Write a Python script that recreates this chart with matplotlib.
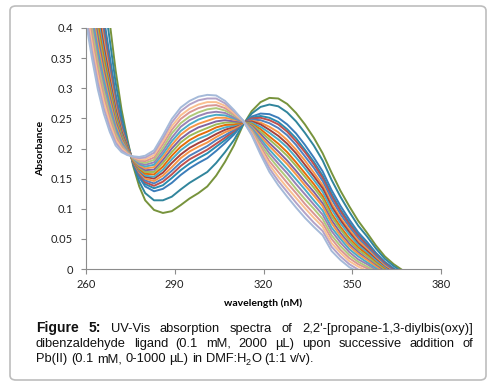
import matplotlib
matplotlib.use("Agg")
import matplotlib.pyplot as plt
from matplotlib.patches import FancyBboxPatch

# wavelength grid (nm) and absorbance x1000, one list per Pb(II) addition
wavelength = [260, 262, 264, 266, 268, 270, 272, 274, 276, 278,
              280, 283, 286, 289, 292, 295, 298, 301, 304, 307,
              310, 313, 316, 319, 322, 325, 328, 331, 334, 337,
              340, 343, 346, 349, 352, 355, 358, 361, 364, 367]

s00 = [730, 650, 570, 490, 410, 330, 265, 215, 170, 137, 114, 98, 93, 96, 106, 117, 126, 137, 155, 178, 205, 238, 262, 277, 284, 283, 274, 259, 240, 218, 192, 160, 130, 104, 80, 60, 39, 21, 8, -2]
s01 = [679, 602, 527, 453, 381, 310, 254, 211, 173, 145, 126, 114, 114, 120, 132, 143, 152, 161, 176, 194, 214, 239, 258, 269, 273, 270, 260, 245, 226, 205, 180, 148, 120, 95, 72, 54, 34, 17, 5, -5]
s02 = [631, 557, 486, 418, 354, 291, 243, 207, 175, 152, 137, 129, 133, 143, 156, 167, 176, 184, 196, 209, 223, 241, 253, 258, 257, 251, 240, 225, 206, 185, 162, 131, 105, 82, 61, 45, 27, 12, 1, -8]
s03 = [615, 542, 472, 407, 345, 285, 239, 206, 176, 155, 141, 134, 139, 151, 164, 175, 184, 192, 203, 214, 226, 241, 251, 254, 251, 244, 232, 217, 198, 178, 155, 125, 99, 77, 57, 41, 24, 10, -1, -10]
s04 = [602, 530, 461, 397, 337, 280, 237, 205, 177, 157, 144, 138, 145, 157, 171, 182, 190, 198, 208, 218, 229, 242, 250, 251, 247, 240, 228, 212, 194, 174, 151, 121, 96, 74, 55, 39, 23, 9, -2, -10]
s05 = [589, 518, 450, 388, 330, 275, 234, 204, 178, 159, 147, 142, 150, 163, 177, 188, 196, 204, 214, 222, 231, 242, 248, 247, 242, 234, 222, 206, 187, 168, 146, 116, 91, 70, 51, 36, 21, 7, -3, -12]
s06 = [576, 506, 439, 379, 323, 270, 231, 203, 178, 161, 150, 146, 155, 169, 184, 195, 203, 210, 219, 227, 233, 242, 246, 243, 236, 227, 214, 198, 180, 160, 139, 109, 85, 65, 47, 33, 18, 5, -5, -13]
s07 = [564, 494, 429, 369, 315, 265, 228, 202, 179, 163, 153, 150, 160, 176, 190, 201, 209, 216, 224, 231, 236, 243, 245, 240, 231, 221, 208, 192, 173, 154, 134, 104, 81, 61, 43, 30, 16, 3, -6, -14]
s08 = [551, 482, 418, 360, 308, 260, 225, 200, 180, 164, 155, 153, 165, 182, 197, 208, 216, 222, 230, 235, 238, 243, 243, 236, 226, 215, 202, 185, 167, 148, 128, 99, 76, 57, 40, 27, 14, 2, -8, -15]
s09 = [538, 470, 407, 351, 301, 255, 222, 199, 180, 166, 158, 157, 170, 188, 203, 214, 222, 228, 235, 239, 240, 243, 241, 232, 220, 208, 194, 177, 159, 141, 121, 92, 70, 51, 36, 24, 11, 0, -9, -17]
s10 = [525, 458, 396, 342, 294, 250, 220, 198, 181, 168, 161, 161, 176, 194, 210, 221, 228, 234, 240, 243, 243, 244, 240, 228, 215, 202, 188, 171, 153, 135, 116, 87, 66, 47, 32, 21, 9, -2, -11, -18]
s11 = [512, 446, 385, 332, 286, 245, 217, 197, 182, 170, 164, 165, 181, 200, 216, 227, 235, 240, 245, 247, 245, 244, 238, 224, 209, 195, 180, 163, 145, 128, 109, 81, 60, 42, 28, 17, 6, -4, -12, -19]
s12 = [500, 434, 374, 323, 279, 240, 214, 196, 182, 172, 167, 169, 186, 206, 223, 234, 241, 246, 251, 251, 248, 245, 236, 220, 204, 189, 174, 157, 139, 122, 104, 76, 55, 38, 25, 15, 4, -6, -14, -20]
s13 = [487, 422, 363, 314, 272, 235, 211, 195, 183, 174, 170, 173, 191, 212, 229, 240, 248, 253, 256, 255, 250, 245, 234, 216, 198, 182, 166, 149, 132, 114, 97, 69, 50, 33, 21, 11, 1, -8, -15, -22]
s14 = [474, 410, 352, 304, 264, 230, 208, 194, 184, 176, 173, 177, 196, 218, 236, 247, 254, 259, 261, 259, 252, 245, 232, 212, 192, 175, 159, 141, 124, 107, 90, 63, 44, 28, 16, 8, -2, -10, -17, -23]
s15 = [461, 398, 342, 295, 257, 225, 205, 193, 184, 178, 176, 181, 201, 225, 242, 253, 260, 265, 267, 263, 255, 246, 230, 207, 186, 168, 151, 133, 116, 100, 83, 56, 38, 23, 12, 4, -4, -12, -18, -24]
s16 = [448, 386, 331, 286, 250, 220, 203, 192, 185, 180, 179, 185, 207, 231, 249, 260, 267, 271, 272, 267, 257, 246, 228, 203, 179, 161, 143, 126, 108, 92, 76, 50, 32, 18, 8, 1, -7, -14, -20, -26]
s17 = [436, 374, 320, 277, 243, 215, 200, 191, 186, 182, 182, 189, 212, 237, 255, 266, 273, 277, 277, 271, 259, 246, 226, 199, 173, 153, 135, 118, 101, 85, 70, 43, 27, 13, 4, -3, -10, -16, -22, -27]
s18 = [423, 362, 309, 267, 235, 210, 197, 190, 186, 184, 185, 193, 217, 243, 262, 273, 280, 283, 283, 275, 262, 247, 224, 194, 167, 146, 128, 110, 93, 77, 63, 37, 21, 8, -1, -7, -12, -18, -23, -29]
s19 = [410, 350, 298, 258, 228, 205, 194, 189, 187, 186, 188, 197, 222, 249, 268, 279, 286, 289, 288, 279, 264, 247, 222, 190, 161, 139, 120, 102, 85, 70, 56, 30, 15, 3, -5, -10, -15, -20, -25, -30]

spectra = [s00, s01, s02, s03, s04, s05, s06, s07, s08, s09,
           s10, s11, s12, s13, s14, s15, s16, s17, s18, s19]

line_colors = ['#77933C', '#31859C', '#3C7DBA', '#2A8CB0', '#C0504D',
               '#4F81BD', '#F79646', '#A5403D', '#4BACC6', '#E46C0A',
               '#9BBB59', '#8064A2', '#F79646', '#4BACC6', '#9983B5',
               '#AFC97A', '#D99694', '#FAC090', '#B3A2C7', '#A5BAD9']

x_ticks = [260, 290, 320, 350, 380]
y_ticks = [0, 0.05, 0.1, 0.15, 0.2, 0.25, 0.3, 0.35, 0.4]
y_tick_labels = ['0', '0.05', '0.1', '0.15', '0.2', '0.25', '0.3', '0.35', '0.4']

# each word is a list of (text, bold, subscript) pieces
caption = [
    [[("Figure", True, False)], [("5:", True, False)], [("UV-Vis", False, False)],
     [("absorption", False, False)], [("spectra", False, False)], [("of", False, False)],
     [("2,2'-[propane-1,3-diylbis(oxy)]", False, False)]],
    [[("dibenzaldehyde", False, False)], [("ligand", False, False)], [("(0.1", False, False)],
     [("mM,", False, False)], [("2000", False, False)], [("µL)", False, False)],
     [("upon", False, False)], [("successive", False, False)], [("addition", False, False)],
     [("of", False, False)]],
    [[("Pb(II)", False, False)], [("(0.1", False, False)], [("mM,", False, False)],
     [("0-1000", False, False)], [("µL)", False, False)], [("in", False, False)],
     [("DMF:H", False, False), ("2", False, True), ("O", False, False)],
     [("(1:1", False, False)], [("v/v).", False, False)]],
]

W, H = 494, 391
fig = plt.figure(figsize=(W / 100, H / 100), dpi=100)

# rounded frame around chart + caption
frame = FancyBboxPatch((10 / W, 1 - 380 / H), 476 / W, 374 / H,
                       boxstyle="round,pad=0,rounding_size=0.012",
                       transform=fig.transFigure, facecolor='none',
                       edgecolor='#BDBDBD', linewidth=1.2, zorder=-1)
fig.patches.append(frame)

ax = fig.add_axes([86 / W, 1 - 269 / H, 355 / W, 241 / H])
ax.set_facecolor('none')

for vals, c in zip(spectra, line_colors):
    ax.plot(wavelength, [v / 1000 for v in vals], color=c, lw=1.4, solid_capstyle='round')

ax.set_xlim(260, 380)
ax.set_ylim(0, 0.4)
ax.set_xticks(x_ticks)
ax.set_yticks(y_ticks)
ax.set_yticklabels(y_tick_labels)

for s in ['top', 'right']:
    ax.spines[s].set_visible(False)
for s in ['left', 'bottom']:
    ax.spines[s].set_color('#8C8C8C')
    ax.spines[s].set_linewidth(0.8)
ax.tick_params(direction='out', length=3.5, width=0.8, color='#8C8C8C',
               labelsize=8, labelcolor='#222222')
ax.tick_params(axis='y', pad=6)
ax.tick_params(axis='x', pad=4)
for lab in ax.get_xticklabels() + ax.get_yticklabels():
    lab.set_family('Lato')

ax.set_xlabel('wavelength (nM)', fontsize=7.5, fontweight='bold', family='Lato', labelpad=6)
ax.set_ylabel('Absorbance', fontsize=7.5, fontweight='bold', family='Lato', labelpad=4)

# caption, justified like the journal layout
fig.canvas.draw()
renderer = fig.canvas.get_renderer()
left, right = 36 / W, 473 / W
baselines = [332, 347, 362]
for i, words in enumerate(caption):
    y = 1 - baselines[i] / H
    word_pieces = []
    word_widths = []
    for pieces in words:
        items = []
        total = 0
        for txt, bold, sub in pieces:
            size = 10 if bold else (6.5 if sub else 9.3)
            t = fig.text(0, y - (3 / H if sub else 0), txt, fontsize=size,
                         family='Liberation Sans', fontweight='bold' if bold else 'normal',
                         va='baseline', color='#111111')
            wd = t.get_window_extent(renderer).width / fig.bbox.width
            items.append((t, wd))
            total += wd
        word_pieces.append(items)
        word_widths.append(total)
    if i < len(caption) - 1:
        gap = (right - left - sum(word_widths)) / (len(words) - 1)
    else:
        gap = 3.6 / W
    x = left
    for items, total in zip(word_pieces, word_widths):
        px = x
        for t, wd in items:
            t.set_x(px)
            px += wd
        x += total + gap

fig.savefig('out.png', dpi=100)
